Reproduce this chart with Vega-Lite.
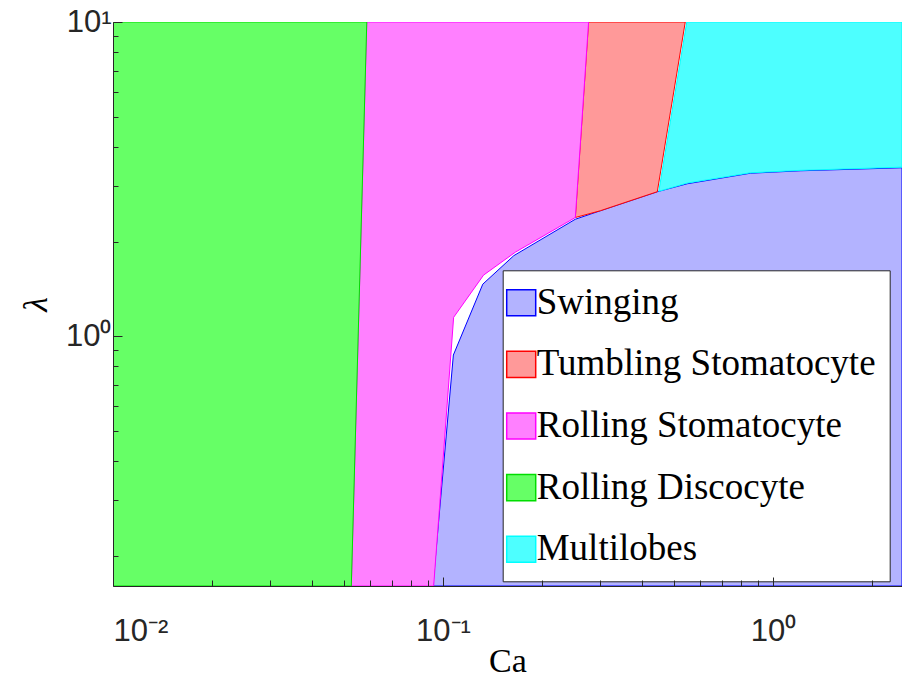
{
  "$schema": "https://vega.github.io/schema/vega-lite/v6.json",
  "width": 789,
  "height": 564,
  "autosize": {"type": "none"},
  "padding": {"left": 113, "top": 22, "right": 0, "bottom": 98},
  "background": "white",
  "config": {
    "view": {"stroke": null},
    "axis": {
      "labelFont": "Liberation Sans", "labelFontSize": 31, "labelColor": "#262626",
      "tickColor": "#262626", "domainColor": "#262626", "grid": false,
      "titleFont": "Liberation Serif", "titleFontSize": 34, "titleFontWeight": "normal", "titleColor": "#000000"
    },
    "legend": {
      "labelFont": "Liberation Serif", "labelFontSize": 37, "labelColor": "#000000", "labelLimit": 0,
      "rowPadding": 23.6, "padding": 14, "symbolOffset": -14, "labelOffset": -3,
      "strokeColor": "#262626", "fillColor": "#FFFFFF",
      "symbolType": "M-1,-0.9H1V0.9H-1Z", "symbolSize": 841, "symbolStrokeWidth": 1.5
    }
  },
  "data": {
    "values": [
      {"region": "Swinging", "i": 1, "Ca": 0.0932, "lambda": 0.16},
      {"region": "Swinging", "i": 2, "Ca": 0.1075, "lambda": 0.870},
      {"region": "Swinging", "i": 3, "Ca": 0.1320, "lambda": 1.463},
      {"region": "Swinging", "i": 4, "Ca": 0.1639, "lambda": 1.803},
      {"region": "Swinging", "i": 5, "Ca": 0.2518, "lambda": 2.355},
      {"region": "Swinging", "i": 6, "Ca": 0.2997, "lambda": 2.506},
      {"region": "Swinging", "i": 7, "Ca": 0.4461, "lambda": 2.881},
      {"region": "Swinging", "i": 8, "Ca": 0.5498, "lambda": 3.054},
      {"region": "Swinging", "i": 9, "Ca": 0.8535, "lambda": 3.299},
      {"region": "Swinging", "i": 10, "Ca": 1.210, "lambda": 3.359},
      {"region": "Swinging", "i": 11, "Ca": 2.46, "lambda": 3.434},
      {"region": "Swinging", "i": 12, "Ca": 2.46, "lambda": 0.16},
      {"region": "Tumbling Stomatocyte", "i": 1, "Ca": 0.2762, "lambda": 10},
      {"region": "Tumbling Stomatocyte", "i": 2, "Ca": 0.5422, "lambda": 10},
      {"region": "Tumbling Stomatocyte", "i": 3, "Ca": 0.4461, "lambda": 2.881},
      {"region": "Tumbling Stomatocyte", "i": 4, "Ca": 0.2997, "lambda": 2.506},
      {"region": "Tumbling Stomatocyte", "i": 5, "Ca": 0.2518, "lambda": 2.385},
      {"region": "Rolling Stomatocyte", "i": 1, "Ca": 0.05274, "lambda": 0.16},
      {"region": "Rolling Stomatocyte", "i": 2, "Ca": 0.05876, "lambda": 10},
      {"region": "Rolling Stomatocyte", "i": 3, "Ca": 0.2762, "lambda": 10},
      {"region": "Rolling Stomatocyte", "i": 4, "Ca": 0.2518, "lambda": 2.385},
      {"region": "Rolling Stomatocyte", "i": 5, "Ca": 0.1656, "lambda": 1.849},
      {"region": "Rolling Stomatocyte", "i": 6, "Ca": 0.1327, "lambda": 1.563},
      {"region": "Rolling Stomatocyte", "i": 7, "Ca": 0.1077, "lambda": 1.147},
      {"region": "Rolling Stomatocyte", "i": 8, "Ca": 0.0937, "lambda": 0.16},
      {"region": "Rolling Discocyte", "i": 1, "Ca": 0.01, "lambda": 0.16},
      {"region": "Rolling Discocyte", "i": 2, "Ca": 0.01, "lambda": 10},
      {"region": "Rolling Discocyte", "i": 3, "Ca": 0.05876, "lambda": 10},
      {"region": "Rolling Discocyte", "i": 4, "Ca": 0.05274, "lambda": 0.16},
      {"region": "Multilobes", "i": 1, "Ca": 0.548, "lambda": 10},
      {"region": "Multilobes", "i": 2, "Ca": 2.46, "lambda": 10},
      {"region": "Multilobes", "i": 3, "Ca": 2.46, "lambda": 3.45},
      {"region": "Multilobes", "i": 4, "Ca": 1.21, "lambda": 3.37},
      {"region": "Multilobes", "i": 5, "Ca": 0.8535, "lambda": 3.31},
      {"region": "Multilobes", "i": 6, "Ca": 0.5498, "lambda": 3.07},
      {"region": "Multilobes", "i": 7, "Ca": 0.4508, "lambda": 2.89}
    ]
  },
  "mark": {"type": "line", "filled": true, "interpolate": "linear-closed", "strokeWidth": 1, "clip": true},
  "encoding": {
    "x": {
      "field": "Ca", "type": "quantitative",
      "scale": {"type": "log", "domain": [0.01, 2.46], "nice": false},
      "axis": {
        "values": [0.01, 0.02, 0.03, 0.04, 0.05, 0.06, 0.07, 0.08, 0.09, 0.1, 0.2, 0.3, 0.4, 0.5, 0.6, 0.7, 0.8, 0.9, 1, 2],
        "labelExpr": "datum.value == 0.01 ? '10⁻²' : datum.value == 0.1 ? '10⁻¹' : datum.value == 1 ? '10⁰' : ''",
        "tickSize": {"condition": {"test": "datum.value == 0.01 || datum.value == 0.1 || datum.value == 1", "value": -9}, "value": -6},
        "labelPadding": 39,
        "zindex": 1,
        "title": "Ca", "titlePadding": -2
      }
    },
    "y": {
      "field": "lambda", "type": "quantitative",
      "scale": {"type": "log", "domain": [0.16, 10], "nice": false},
      "axis": {
        "values": [0.2, 0.3, 0.4, 0.5, 0.6, 0.7, 0.8, 0.9, 1, 2, 3, 4, 5, 6, 7, 8, 9, 10],
        "labelExpr": "datum.value == 1 ? '10⁰' : datum.value == 10 ? '10¹' : ''",
        "tickSize": {"condition": {"test": "datum.value == 1 || datum.value == 10", "value": -9}, "value": -5},
        "labelPadding": 11,
        "zindex": 1,
        "title": "λ", "titleFontStyle": "italic", "titlePadding": 12
      }
    },
    "fill": {
      "field": "region", "type": "nominal",
      "scale": {
        "domain": ["Swinging", "Tumbling Stomatocyte", "Rolling Stomatocyte", "Rolling Discocyte", "Multilobes"],
        "range": ["#B3B3FF", "#FF9999", "#FF80FF", "#66FF66", "#4DFFFF"]
      },
      "legend": {"orient": "none", "legendX": 389.7, "legendY": 248.3, "title": null}
    },
    "stroke": {
      "field": "region", "type": "nominal",
      "scale": {
        "domain": ["Swinging", "Tumbling Stomatocyte", "Rolling Stomatocyte", "Rolling Discocyte", "Multilobes"],
        "range": ["#0000FF", "#FF0000", "#FF00FF", "#00DD00", "#00FFFF"]
      },
      "legend": {"orient": "none", "legendX": 389.7, "legendY": 248.3, "title": null}
    },
    "order": {"field": "i", "type": "quantitative"}
  }
}
